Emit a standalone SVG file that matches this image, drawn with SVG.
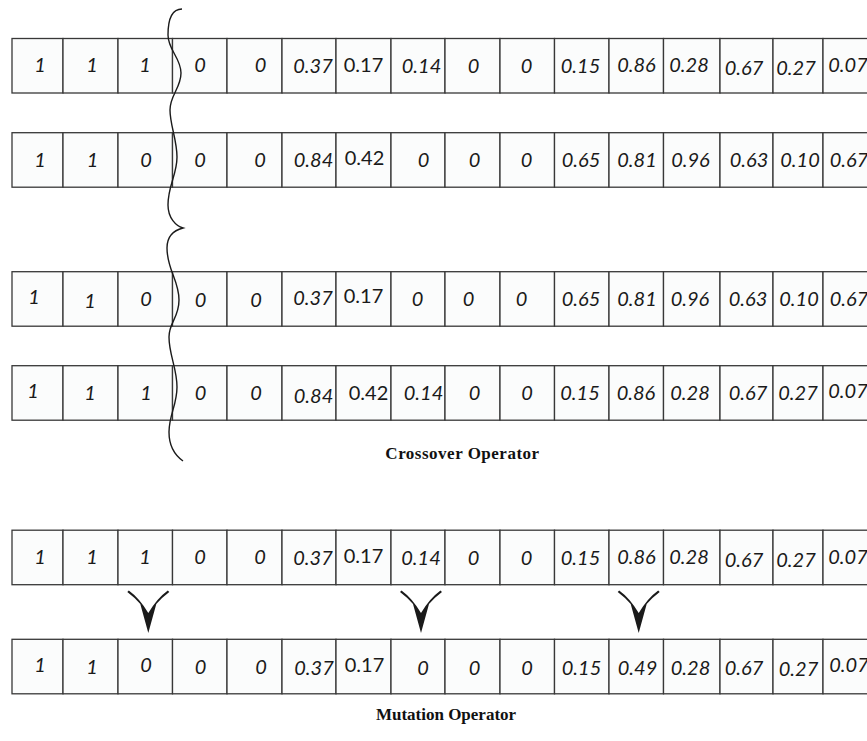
<svg xmlns="http://www.w3.org/2000/svg" width="867" height="741" viewBox="0 0 867 741">
<style>
.cell{fill:#fbfcfc;stroke:#383838;stroke-width:1.3}
.t{font-family:Lato,"Open Sans","Liberation Sans",sans-serif;font-style:italic;font-size:20px;fill:#1a1a1a;text-anchor:middle}
.n{font-style:normal}
.lbl{font-family:"Liberation Serif","Times New Roman",serif;font-weight:bold;font-size:17px;fill:#111;text-anchor:middle}
.brace{fill:none;stroke:#1a1a1a;stroke-width:1.4}
</style>
<defs>
<path id="mut" d="M -21,-41 Q -13,-35 -8,-29 L 0,0 L 8,-29 Q 13,-35 21,-41 L 19.5,-42.5 Q 9,-35 0,-20 Q -9,-35 -19.5,-42.5 Z" fill="#1a1a1a"/>
<g id="cells">
<rect class="cell" x="12" y="0" width="51" height="54.5"/>
<rect class="cell" x="63" y="0" width="55" height="54.5"/>
<rect class="cell" x="118" y="0" width="54.5" height="54.5"/>
<rect class="cell" x="172.5" y="0" width="54.5" height="54.5"/>
<rect class="cell" x="227" y="0" width="55" height="54.5"/>
<rect class="cell" x="282" y="0" width="54" height="54.5"/>
<rect class="cell" x="336" y="0" width="55" height="54.5"/>
<rect class="cell" x="391" y="0" width="54" height="54.5"/>
<rect class="cell" x="445" y="0" width="55" height="54.5"/>
<rect class="cell" x="500" y="0" width="54.5" height="54.5"/>
<rect class="cell" x="554.5" y="0" width="54.5" height="54.5"/>
<rect class="cell" x="609" y="0" width="54.5" height="54.5"/>
<rect class="cell" x="663.5" y="0" width="56.5" height="54.5"/>
<rect class="cell" x="720" y="0" width="53" height="54.5"/>
<rect class="cell" x="773" y="0" width="50" height="54.5"/>
<rect class="cell" x="823" y="0" width="57" height="54.5"/>
</g>
</defs>

<g id="parent1">
<use href="#cells" y="38.5"/>
<text class="t" x="40" y="72">1</text><text class="t" x="92" y="72">1</text><text class="t" x="145" y="72">1</text>
<text class="t" x="200" y="72">0</text><text class="t" x="260.5" y="72">0</text><text class="t" x="313" y="73">0.37</text>
<text class="t n" x="363.5" y="72">0.17</text><text class="t" x="421.5" y="73">0.14</text><text class="t" x="473.5" y="73">0</text>
<text class="t" x="526.5" y="73">0</text><text class="t" x="580.5" y="73">0.15</text><text class="t" x="636.5" y="72">0.86</text>
<text class="t" x="689" y="72">0.28</text><text class="t" x="744" y="75">0.67</text><text class="t" x="796" y="75">0.27</text>
<text class="t" x="848" y="72">0.07</text>
</g>

<g id="parent2">
<use href="#cells" y="132.7"/>
<text class="t" x="40" y="167">1</text><text class="t" x="92.5" y="167">1</text><text class="t" x="146" y="167">0</text>
<text class="t" x="200" y="167">0</text><text class="t" x="260" y="167">0</text><text class="t" x="313.5" y="167">0.84</text>
<text class="t n" x="364.5" y="165">0.42</text><text class="t" x="423.5" y="167">0</text><text class="t" x="474.5" y="167">0</text>
<text class="t" x="526.5" y="167">0</text><text class="t" x="581" y="167">0.65</text><text class="t" x="637" y="167">0.81</text>
<text class="t" x="690.5" y="167">0.96</text><text class="t" x="749" y="167">0.63</text><text class="t" x="800" y="167">0.10</text>
<text class="t" x="849" y="167">0.67</text>
</g>

<g id="child1">
<use href="#cells" y="271.7"/>
<text class="t" x="34" y="304">1</text><text class="t" x="90" y="308">1</text><text class="t" x="146" y="306">0</text>
<text class="t" x="200.5" y="307">0</text><text class="t" x="256" y="307">0</text><text class="t" x="313" y="305">0.37</text>
<text class="t n" x="363.5" y="303">0.17</text><text class="t" x="417.5" y="306">0</text><text class="t" x="468.5" y="306">0</text>
<text class="t" x="521.5" y="306">0</text><text class="t" x="581" y="306">0.65</text><text class="t" x="637" y="306">0.81</text>
<text class="t" x="690" y="306">0.96</text><text class="t" x="748" y="306">0.63</text><text class="t" x="799" y="306">0.10</text>
<text class="t" x="849" y="306">0.67</text>
</g>

<g id="child2">
<use href="#cells" y="365.7"/>
<text class="t" x="33" y="398">1</text><text class="t" x="90" y="400">1</text><text class="t" x="146" y="400">1</text>
<text class="t" x="200.5" y="400">0</text><text class="t" x="256" y="400">0</text><text class="t" x="313.5" y="403">0.84</text>
<text class="t n" x="368.5" y="400">0.42</text><text class="t" x="423.5" y="400">0.14</text><text class="t" x="474.5" y="400">0</text>
<text class="t" x="527" y="400">0</text><text class="t" x="580" y="400">0.15</text><text class="t" x="636" y="400">0.86</text>
<text class="t" x="690" y="400">0.28</text><text class="t" x="748" y="400">0.67</text><text class="t" x="798" y="400">0.27</text>
<text class="t" x="848" y="398">0.07</text>
</g>

<g id="before-mutation">
<use href="#cells" y="530.2"/>
<text class="t" x="40" y="564">1</text><text class="t" x="92" y="564">1</text><text class="t" x="145" y="564">1</text>
<text class="t" x="200" y="564">0</text><text class="t" x="260" y="564">0</text><text class="t" x="313" y="565">0.37</text>
<text class="t n" x="363.5" y="563">0.17</text><text class="t" x="421" y="565">0.14</text><text class="t" x="473.5" y="565">0</text>
<text class="t" x="526.5" y="565">0</text><text class="t" x="580.5" y="565">0.15</text><text class="t" x="636.5" y="564">0.86</text>
<text class="t" x="689" y="564">0.28</text><text class="t" x="744" y="567">0.67</text><text class="t" x="796" y="567">0.27</text>
<text class="t" x="848" y="564">0.07</text>
</g>

<g id="after-mutation">
<use href="#cells" y="639.3"/>
<text class="t" x="40" y="672">1</text><text class="t" x="92" y="674">1</text><text class="t" x="146" y="672">0</text>
<text class="t" x="200.5" y="674">0</text><text class="t" x="261" y="674">0</text><text class="t" x="314" y="675">0.37</text>
<text class="t n" x="364.5" y="672">0.17</text><text class="t" x="423" y="675">0</text><text class="t" x="474.5" y="675">0</text>
<text class="t" x="527" y="675">0</text><text class="t" x="581.5" y="675">0.15</text><text class="t" x="637.5" y="675">0.49</text>
<text class="t" x="690.5" y="675">0.28</text><text class="t" x="744" y="675">0.67</text><text class="t" x="798.5" y="676">0.27</text>
<text class="t" x="849" y="672">0.07</text>
</g>

<g id="connectors">
<path class="brace" d="M182,9 C172,9 168,20 168,35 C168,50 181,58 181,73 C181,88 170,95 170,110 C170,125 177,140 177,157 C177,175 168,185 168,205 C168,218 176,226 183,228 C175,230 167,235 167,248 C167,270 179,280 179,300 C179,318 169,322 169,337 C169,355 177,368 177,387 C177,405 169,415 169,432 C169,447 176,456 183,461"/>
<use href="#mut" x="148.3" y="633"/>
<use href="#mut" x="421" y="633"/>
<use href="#mut" x="638.7" y="633"/>
</g>

<g id="labels">
<text class="lbl" x="462.5" y="459" letter-spacing="0.5">Crossover Operator</text>
<text class="lbl" x="446" y="720">Mutation Operator</text>
</g>
</svg>
